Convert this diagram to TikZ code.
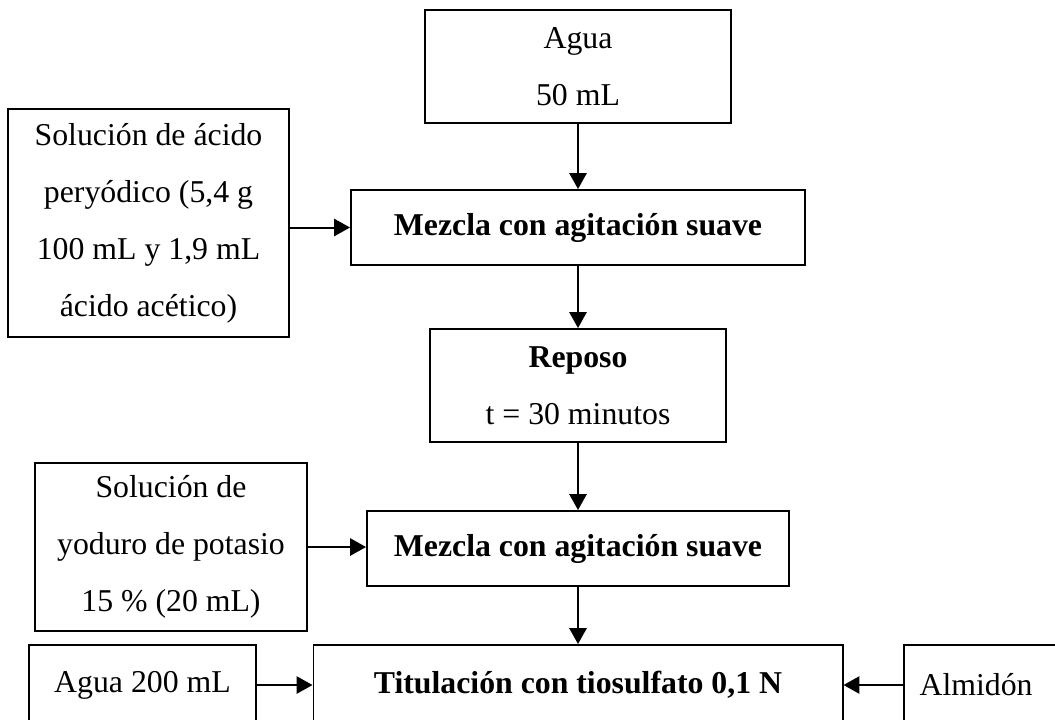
\documentclass[tikz,border=0pt]{standalone}
\usepackage{fontspec}
\setmainfont{Liberation Serif}
\usetikzlibrary{arrows.meta}
\def\px{0.3776pt}

\begin{document}
\begin{tikzpicture}[line cap=round,line join=miter,x=0.3776pt,y=-0.3776pt,
  caja/.style={draw=black,line width=0.75pt,align=center,inner sep=0pt,
    font=\fontsize{12}{21.5}\selectfont},
  flecha/.style={-{Triangle[length=6pt,width=6.5pt]},line width=0.75pt}]
\clip (0,0) rectangle (1055,719);
\node[caja,minimum width=306*\px,minimum height=113*\px] (agua) at (578,66.5) {Agua\\50 mL};
\node[caja,minimum width=281*\px,minimum height=228*\px] (acido) at (148.5,223)
  {Solución de ácido\\peryódico (5,4 g\\100 mL y 1,9 mL\\ácido acético)};
\node[caja,minimum width=454*\px,minimum height=75*\px] (mezclaA) at (578,227.5) {\textbf{Mezcla con agitación suave}};
\node[caja,minimum width=296*\px,minimum height=113*\px] (reposo) at (578,385.5) {\textbf{Reposo}\\t = 30 minutos};
\node[caja,minimum width=272*\px,minimum height=168*\px] (yoduro) at (171,547)
  {Solución de\\yoduro de potasio\\15 \% (20 mL)};
\node[caja,minimum width=422*\px,minimum height=75*\px] (mezclaB) at (578,548.5) {\textbf{Mezcla con agitación suave}};
\node[caja,minimum width=227*\px,minimum height=80*\px] (agua2) at (142.5,685) {Agua 200 mL};
\node[caja,minimum width=529*\px,minimum height=80*\px] (titulacion) at (578,685) {\textbf{Titulación con tiosulfato 0,1 N}};
\node[caja,minimum width=156*\px,minimum height=80*\px] (almidon) at (982,685) {Almidón\hspace*{4.5pt}};
\draw[flecha] (agua) -- (mezclaA);
\draw[flecha] (acido.east |- mezclaA) -- (mezclaA.west);
\draw[flecha] (mezclaA) -- (reposo);
\draw[flecha] (reposo) -- (mezclaB);
\draw[flecha] (yoduro.east) -- (yoduro.east -| mezclaB.west);
\draw[flecha] (mezclaB) -- (titulacion);
\draw[flecha] (agua2) -- (titulacion);
\draw[flecha] (almidon) -- (titulacion);
\end{tikzpicture}
\end{document}
